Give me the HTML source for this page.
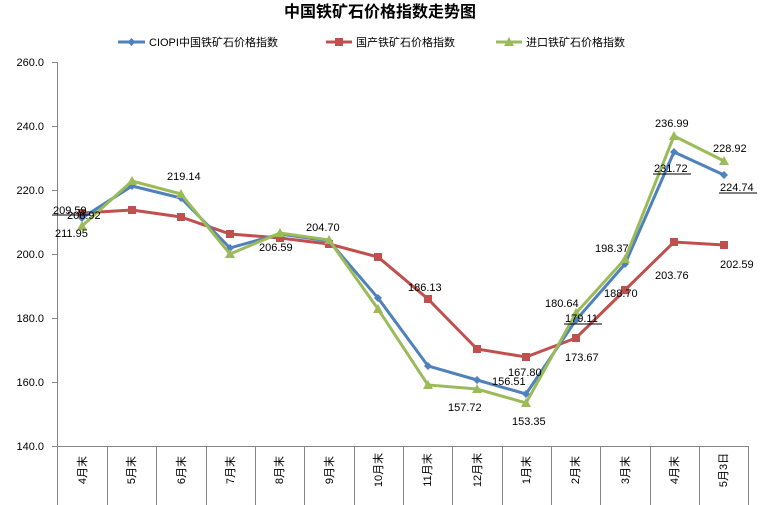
<!DOCTYPE html><html><head><meta charset="utf-8"><style>body{margin:0;background:#fff}svg{display:block;font-family:"Liberation Sans","Noto Sans CJK SC",sans-serif}</style></head><body>
<svg width="761" height="505" viewBox="0 0 761 505">
<text x="380" y="17" font-size="16" font-weight="bold" text-anchor="middle" font-family="'Noto Sans CJK SC',sans-serif">中国铁矿石价格指数走势图</text>
<g font-size="11" font-family="'Liberation Sans','Noto Sans CJK SC',sans-serif">
<line x1="118" y1="42" x2="145" y2="42" stroke="#4F81BD" stroke-width="3"/><path d="M131.5 38l4 4-4 4-4-4z" fill="#4F81BD"/><text x="149" y="46">CIOPI中国铁矿石价格指数</text>
<line x1="326" y1="42" x2="352" y2="42" stroke="#C0504D" stroke-width="3"/><rect x="335" y="38" width="8" height="8" fill="#C0504D"/><text x="356" y="46">国产铁矿石价格指数</text>
<line x1="496" y1="42" x2="522" y2="42" stroke="#9BBB59" stroke-width="3"/><path d="M509 37l5 9h-10z" fill="#9BBB59"/><text x="526" y="46">进口铁矿石价格指数</text>
</g>
<g font-size="11" text-anchor="end">
<text x="44" y="66">260.0</text><text x="44" y="130">240.0</text><text x="44" y="194">220.0</text><text x="44" y="258">200.0</text><text x="44" y="322">180.0</text><text x="44" y="386">160.0</text><text x="44" y="450">140.0</text>
</g>
<g stroke="#868686" stroke-width="1">
<line x1="57.5" y1="62" x2="57.5" y2="505"/><line x1="52" y1="446.5" x2="748" y2="446.5"/>
<line x1="52" y1="62.5" x2="57" y2="62.5"/><line x1="52" y1="126.5" x2="57" y2="126.5"/><line x1="52" y1="190.5" x2="57" y2="190.5"/><line x1="52" y1="254.5" x2="57" y2="254.5"/><line x1="52" y1="318.5" x2="57" y2="318.5"/><line x1="52" y1="382.5" x2="57" y2="382.5"/>
<path d="M107.5 446v59M156.5 446v59M206.5 446v59M255.5 446v59M304.5 446v59M354.5 446v59M403.5 446v59M452.5 446v59M502.5 446v59M551.5 446v59M600.5 446v59M650.5 446v59M699.5 446v59M748.5 446v59"/>
</g>
<g font-size="11" font-family="'Liberation Sans','Noto Sans CJK SC',sans-serif" text-anchor="middle">
<text transform="translate(86,470) rotate(-90)">4月末</text><text transform="translate(135,470) rotate(-90)">5月末</text><text transform="translate(185,470) rotate(-90)">6月末</text><text transform="translate(234,470) rotate(-90)">7月末</text><text transform="translate(283,470) rotate(-90)">8月末</text><text transform="translate(333,470) rotate(-90)">9月末</text><text transform="translate(382,470) rotate(-90)">10月末</text><text transform="translate(431,470) rotate(-90)">11月末</text><text transform="translate(481,470) rotate(-90)">12月末</text><text transform="translate(530,470) rotate(-90)">1月末</text><text transform="translate(579,470) rotate(-90)">2月末</text><text transform="translate(629,470) rotate(-90)">3月末</text><text transform="translate(678,470) rotate(-90)">4月末</text><text transform="translate(727,470) rotate(-90)">5月3日</text>
</g>
<polyline fill="none" stroke="#C0504D" stroke-width="3" points="82,213 132,210 181,217 230,234 280,238 329,244 378,257 428,299 477,349 526,357 576,338 625,290 674,242 724,245"/>
<g fill="#C0504D"><rect x="78" y="209" width="8" height="8"/><rect x="128" y="206" width="8" height="8"/><rect x="177" y="213" width="8" height="8"/><rect x="226" y="230" width="8" height="8"/><rect x="276" y="234" width="8" height="8"/><rect x="325" y="240" width="8" height="8"/><rect x="374" y="253" width="8" height="8"/><rect x="424" y="295" width="8" height="8"/><rect x="473" y="345" width="8" height="8"/><rect x="522" y="353" width="8" height="8"/><rect x="572" y="334" width="8" height="8"/><rect x="621" y="286" width="8" height="8"/><rect x="670" y="238" width="8" height="8"/><rect x="720" y="241" width="8" height="8"/></g>
<polyline fill="none" stroke="#4F81BD" stroke-width="3" points="82,218 132,186 181,198 230,248 280,234 329,241 378,298 428,366 477,380 526,394 576,320 625,264 674,152 724,175"/>
<g fill="#4F81BD"><path d="M82 214l4 4-4 4-4-4zM132 182l4 4-4 4-4-4zM181 194l4 4-4 4-4-4zM230 244l4 4-4 4-4-4zM280 230l4 4-4 4-4-4zM329 237l4 4-4 4-4-4zM378 294l4 4-4 4-4-4zM428 362l4 4-4 4-4-4zM477 376l4 4-4 4-4-4zM526 390l4 4-4 4-4-4zM576 316l4 4-4 4-4-4zM625 260l4 4-4 4-4-4zM674 148l4 4-4 4-4-4zM724 171l4 4-4 4-4-4z"/></g>
<polyline fill="none" stroke="#9BBB59" stroke-width="3" points="82,226 132,181 181,194 230,254 280,233 329,240 378,309 428,385 477,389 526,403 576,313 625,259 674,136 724,161"/>
<g fill="#9BBB59"><path d="M82 221l5 9h-10zM132 176l5 9h-10zM181 189l5 9h-10zM230 249l5 9h-10zM280 228l5 9h-10zM329 235l5 9h-10zM378 304l5 9h-10zM428 380l5 9h-10zM477 384l5 9h-10zM526 398l5 9h-10zM576 308l5 9h-10zM625 254l5 9h-10zM674 131l5 9h-10zM724 156l5 9h-10z"/></g>
<g font-size="11">
<text x="53" y="214">209.59</text><line x1="52" y1="215" x2="90" y2="215" stroke="#000"/><text x="67" y="219">208.92</text><text x="55" y="237">211.95</text>
<text x="167" y="180">219.14</text><text x="259" y="251">206.59</text><text x="306" y="231">204.70</text>
<text x="408" y="291">186.13</text><text x="448" y="411">157.72</text><text x="508" y="376">167.80</text><text x="492" y="385">156.51</text><text x="512" y="425">153.35</text>
<text x="545" y="307">180.64</text><text x="565" y="322">179.11</text><line x1="564" y1="324" x2="602" y2="324" stroke="#000"/><text x="565" y="361">173.67</text>
<text x="595" y="252">198.37</text><text x="604" y="297">188.70</text><text x="655" y="279">203.76</text>
<text x="655" y="127">236.99</text><text x="654" y="172">231.72</text><line x1="653" y1="174" x2="691" y2="174" stroke="#000"/><text x="713" y="152">228.92</text><text x="720" y="191">224.74</text><line x1="719" y1="193" x2="757" y2="193" stroke="#000"/><text x="720" y="268">202.59</text>
</g>
</svg></body></html>
